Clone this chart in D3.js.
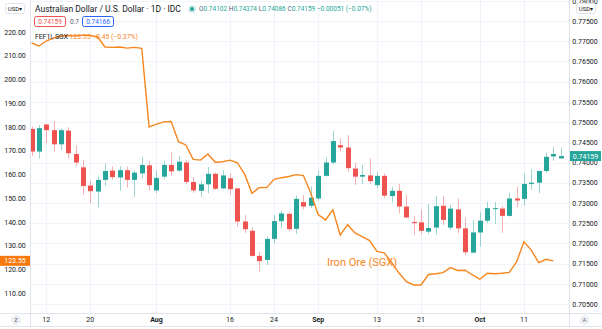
<!DOCTYPE html>
<html>
<head>
<meta charset="utf-8">
<script src="https://cdn.jsdelivr.net/npm/d3@7"></script>
<style>
  body { margin: 0; background: #fff; }
  svg { display: block; font-family: Roboto, "Noto Sans", sans-serif; }
</style>
</head>
<body>
<div id="chart"></div>
<script>
// trading days shown on the chart (2021)
var dates = [
    "07-08", "07-09", "07-12", "07-13", "07-14", "07-15", "07-16", "07-19", "07-20", "07-21",
    "07-22", "07-23", "07-26", "07-27", "07-28", "07-29", "07-30",
    "08-02", "08-03", "08-04", "08-05", "08-06", "08-09", "08-10", "08-11", "08-12", "08-13",
    "08-16", "08-17", "08-18", "08-19", "08-20", "08-23", "08-24", "08-25", "08-26", "08-27",
    "08-30", "08-31",
    "09-01", "09-02", "09-03", "09-06", "09-07", "09-08", "09-09", "09-10", "09-13", "09-14",
    "09-15", "09-16", "09-17", "09-20", "09-21", "09-22", "09-23", "09-24", "09-27", "09-28",
    "09-29", "09-30",
    "10-01", "10-04", "10-05", "10-06", "10-07", "10-08", "10-11", "10-12", "10-13", "10-14",
    "10-15", "10-18"
];

// AUD/USD daily candles
var open = [
    0.7483, 0.7427, 0.7494, 0.7480, 0.7445, 0.7479, 0.7421, 0.7388, 0.7343, 0.7328,
    0.7357, 0.7380, 0.7363, 0.7381, 0.7357, 0.7373, 0.7393,
    0.7331, 0.7365, 0.7394, 0.7380, 0.7400, 0.7352, 0.7330, 0.7346, 0.7372, 0.7336,
    0.7361, 0.7336, 0.7254, 0.7231, 0.7169, 0.7159, 0.7211, 0.7255, 0.7273, 0.7236,
    0.7302, 0.7293,
    0.7311, 0.7367, 0.7400, 0.7443, 0.7437, 0.7385, 0.7365, 0.7368, 0.7344, 0.7367,
    0.7317, 0.7330, 0.7291, 0.7253, 0.7252, 0.7229, 0.7239, 0.7293, 0.7239, 0.7284,
    0.7237, 0.7177,
    0.7227, 0.7256, 0.7285, 0.7286, 0.7268, 0.7311, 0.7310, 0.7347, 0.7350, 0.7379,
    0.7415, 0.74102
];
var high = [
    0.7489, 0.7493, 0.7496, 0.7503, 0.7485, 0.7487, 0.7442, 0.7406, 0.7355, 0.7365,
    0.7398, 0.7390, 0.7391, 0.7390, 0.7381, 0.7414, 0.7404,
    0.7381, 0.7404, 0.7425, 0.7416, 0.7406, 0.7364, 0.7355, 0.7389, 0.7375, 0.7381,
    0.7373, 0.7337, 0.7270, 0.7241, 0.7179, 0.7216, 0.7270, 0.7281, 0.7278, 0.7318,
    0.7320, 0.7340,
    0.7381, 0.7412, 0.7478, 0.7460, 0.7468, 0.7399, 0.7394, 0.7410, 0.7377, 0.7373,
    0.7340, 0.7347, 0.7320, 0.7268, 0.7283, 0.7297, 0.7317, 0.7318, 0.7295, 0.7311,
    0.7264, 0.7258,
    0.7277, 0.7303, 0.7302, 0.7292, 0.7325, 0.7339, 0.7373, 0.7383, 0.7381, 0.7425,
    0.7439, 0.74374
];
var low = [
    0.7416, 0.7410, 0.7449, 0.7427, 0.7431, 0.7410, 0.7391, 0.7321, 0.7299, 0.7289,
    0.7342, 0.7357, 0.7330, 0.7338, 0.7315, 0.7361, 0.7330,
    0.7324, 0.7358, 0.7368, 0.7377, 0.7347, 0.7325, 0.7315, 0.7324, 0.7332, 0.7334,
    0.7320, 0.7241, 0.7226, 0.7167, 0.7130, 0.7146, 0.7200, 0.7237, 0.7231, 0.7223,
    0.7284, 0.7288,
    0.7307, 0.7365, 0.7396, 0.7427, 0.7377, 0.7344, 0.7347, 0.7347, 0.7336, 0.7313,
    0.7301, 0.7274, 0.7262, 0.7221, 0.7223, 0.7223, 0.7222, 0.7245, 0.7233, 0.7225,
    0.7171, 0.7175,
    0.7192, 0.7250, 0.7248, 0.7226, 0.7266, 0.7289, 0.7293, 0.7332, 0.7324, 0.7375,
    0.7404, 0.74086
];
var close = [
    0.7427, 0.7485, 0.7480, 0.7445, 0.7480, 0.7423, 0.7400, 0.7342, 0.7329, 0.7357,
    0.7379, 0.7364, 0.7381, 0.7357, 0.7375, 0.7394, 0.7344,
    0.7362, 0.7394, 0.7378, 0.7402, 0.7352, 0.7331, 0.7346, 0.7372, 0.7335, 0.7368,
    0.7334, 0.7254, 0.7235, 0.7169, 0.7156, 0.7211, 0.7255, 0.7274, 0.7235, 0.7310,
    0.7291, 0.7313,
    0.7367, 0.7400, 0.7453, 0.7437, 0.7386, 0.7365, 0.7369, 0.7354, 0.7367, 0.7318,
    0.7330, 0.7291, 0.7264, 0.7250, 0.7231, 0.7238, 0.7292, 0.7258, 0.7286, 0.7237,
    0.7178, 0.7227,
    0.7256, 0.7287, 0.7287, 0.7268, 0.7311, 0.7306, 0.7347, 0.7350, 0.7379, 0.7414,
    0.7421, 0.74159
];

// iron ore futures (FEF1!, SGX), left scale
var ironOre = [
    215.4, 214.1, 216.2, 217.5, 218.3, 218.5, 218.3, 218.7, 218.5, 217.9,
    213.7, 213.5, 213.7, 213.2, 213.5, 213.1, 180.0, 181.2, 182.1, 182.3,
    173.8, 172.4, 166.3, 166.0, 168.6, 165.1, 165.3, 166.0, 164.9, 160.1,
    152.0, 154.5, 154.4, 157.9, 158.6, 159.1, 159.9, 159.5, 152.0, 143.1,
    140.8, 145.1, 134.4, 138.8, 135.3, 133.8, 132.1, 127.5, 126.9, 122.9,
    118.4, 114.8, 113.4, 113.4, 117.8, 118.1, 118.6, 120.7, 119.5, 119.6,
    117.6, 115.8, 118.3, 118.1, 118.3, 118.7, 123.1, 131.6, 128.1, 122.8,
    124.2, 123.55, null
];

// axis ticks
var rightTicks = [0.705, 0.71, 0.715, 0.72, 0.725, 0.73, 0.735, 0.74, 0.745, 0.75,
    0.755, 0.76, 0.765, 0.77, 0.775, 0.78];
var leftTicks = [110, 120, 130, 140, 150, 160, 170, 180, 190, 200, 210, 220];
var tickDates = ["07-12", "07-20", "08-02", "08-16", "08-24", "09-01", "09-13", "09-21", "10-01", "10-11"];
var tickLabels = ["12", "20", "Aug", "16", "24", "Sep", "13", "21", "Oct", "11"];

function drawChart(id, w, h) {
    var up = "#26a69a", down = "#ef5350", orange = "#f7861e",
        grid = "#f0f3fa", border = "#e0e3eb", textCol = "#131722";

    var plotLeft = 30, plotRight = 569.5, plotBottom = 313;

    var svg = d3.select('#' + id).append('svg')
        .attr("width", w)
        .attr("height", h);

    // scales
    var x = d3.scalePoint()
        .domain(dates)
        .range([31.5, 560.7]);
    var y = d3.scaleLinear()
        .domain([0.705, 0.775])
        .range([304, 21]);
    var yLeft = d3.scaleLinear()
        .domain([110, 220])
        .range([293, 32]);

    svg.append("defs").append("clipPath").attr("id", "plotClip")
        .append("rect")
        .attr("x", plotLeft).attr("y", 0)
        .attr("width", plotRight - plotLeft).attr("height", plotBottom);

    // gridlines
    svg.append("g").selectAll("line.h")
        .data(rightTicks)
        .enter().append("line")
        .attr("x1", plotLeft).attr("x2", plotRight)
        .attr("y1", d => Math.round(y(d)) + 0.5)
        .attr("y2", d => Math.round(y(d)) + 0.5)
        .attr("stroke", grid);
    svg.append("g").selectAll("line.v")
        .data(tickDates)
        .enter().append("line")
        .attr("x1", d => Math.round(x(d)) + 0.5)
        .attr("x2", d => Math.round(x(d)) + 0.5)
        .attr("y1", 0).attr("y2", plotBottom)
        .attr("stroke", grid);

    var plot = svg.append("g").attr("clip-path", "url(#plotClip)");

    var candles = dates.map(function(d, i) {
        return { date: d, o: open[i], h: high[i], l: low[i], c: close[i] };
    });

    // wicks
    plot.append("g").selectAll("line")
        .data(candles)
        .enter().append("line")
        .attr("x1", d => Math.round(x(d.date)) + 0.5)
        .attr("x2", d => Math.round(x(d.date)) + 0.5)
        .attr("y1", d => y(d.h))
        .attr("y2", d => y(d.l))
        .attr("stroke", d => d.c >= d.o ? up : down)
        .attr("stroke-opacity", 0.45)
        .attr("stroke-width", 1);

    // bodies
    plot.append("g").selectAll("rect")
        .data(candles)
        .enter().append("rect")
        .attr("x", d => Math.round(x(d.date)) - 2)
        .attr("width", 5)
        .attr("y", d => y(Math.max(d.o, d.c)))
        .attr("height", d => Math.max(1, Math.abs(y(d.o) - y(d.c))))
        .attr("fill", d => d.c >= d.o ? up : down);

    // iron ore line
    var line = d3.line()
        .defined(d => d != null)
        .x((d, i) => x(dates[i]))
        .y(d => yLeft(d));
    plot.append("path")
        .datum(ironOre)
        .attr("d", line)
        .attr("fill", "none")
        .attr("stroke", orange)
        .attr("stroke-width", 1.4);

    plot.append("text")
        .attr("x", 327).attr("y", 265.5)
        .attr("font-size", "11px")
        .attr("fill", orange)
        .text("Iron Ore (SGX)");

    // borders
    svg.append("line").attr("x1", plotLeft + 0.5).attr("x2", plotLeft + 0.5)
        .attr("y1", 0).attr("y2", 327).attr("stroke", border);
    svg.append("line").attr("x1", plotRight).attr("x2", plotRight)
        .attr("y1", 0).attr("y2", 327).attr("stroke", border);
    svg.append("line").attr("x1", 0).attr("x2", w)
        .attr("y1", plotBottom + 0.5).attr("y2", plotBottom + 0.5).attr("stroke", border);
    svg.append("line").attr("x1", 0).attr("x2", w)
        .attr("y1", 326.5).attr("y2", 326.5).attr("stroke", border);

    // right axis
    var rAxis = svg.append("g")
        .attr("transform", "translate(" + plotRight + ",0)")
        .call(d3.axisRight(y).tickValues(rightTicks).tickFormat(d3.format(".5f")).tickSize(0).tickPadding(15.5));
    rAxis.select(".domain").remove();
    rAxis.selectAll("text")
        .attr("text-anchor", "middle")
        .attr("font-family", "Roboto, sans-serif")
        .attr("font-size", "7px")
        .attr("fill", textCol);

    // left axis
    var lAxis = svg.append("g")
        .attr("transform", "translate(" + plotLeft + ",0)")
        .call(d3.axisLeft(yLeft).tickValues(leftTicks).tickFormat(d3.format(".2f")).tickSize(0).tickPadding(15));
    lAxis.select(".domain").remove();
    lAxis.selectAll("text")
        .attr("text-anchor", "middle")
        .attr("font-family", "Roboto, sans-serif")
        .attr("font-size", "7px")
        .attr("fill", textCol);

    // time axis
    svg.append("g").selectAll("text")
        .data(tickDates)
        .enter().append("text")
        .attr("x", d => x(d))
        .attr("y", 320)
        .attr("dy", ".35em")
        .attr("text-anchor", "middle")
        .attr("font-size", "7px")
        .attr("font-weight", (d, i) => isNaN(+tickLabels[i]) ? "bold" : "normal")
        .attr("fill", textCol)
        .text((d, i) => tickLabels[i]);

    // Z / A buttons
    [[16, "Z"], [584.5, "A"]].forEach(function(b) {
        svg.append("circle").attr("cx", b[0]).attr("cy", 320).attr("r", 5).attr("fill", "#eef0f4");
        svg.append("text").attr("x", b[0]).attr("y", 320).attr("dy", ".35em")
            .attr("text-anchor", "middle").attr("font-size", "6px").attr("fill", "#6a6d78").text(b[1]);
    });

    // last value labels
    var lastClose = close[close.length - 1];
    svg.append("rect").attr("x", plotRight + 0.5).attr("y", y(lastClose) - 5)
        .attr("width", 31).attr("height", 10).attr("fill", up);
    svg.append("text").attr("x", 585.5).attr("y", y(lastClose)).attr("dy", ".35em")
        .attr("text-anchor", "middle").attr("font-size", "7px").attr("fill", "#fff")
        .text(d3.format(".5f")(lastClose));
    var lastOre = ironOre[ironOre.length - 2];
    svg.append("rect").attr("x", 0).attr("y", yLeft(lastOre) - 5)
        .attr("width", 30).attr("height", 10).attr("fill", "#f87a0c");
    svg.append("text").attr("x", 15).attr("y", yLeft(lastOre)).attr("dy", ".35em")
        .attr("text-anchor", "middle").attr("font-size", "7px").attr("fill", "#fff")
        .text(d3.format(".2f")(lastOre));

    // USD boxes
    [5, 576].forEach(function(bx) {
        svg.append("rect").attr("x", bx + 0.5).attr("y", 3.5).attr("width", 19).attr("height", 10)
            .attr("rx", 2).attr("fill", "#fff").attr("stroke", border);
        svg.append("text").attr("x", bx + 10).attr("y", 8.5).attr("dy", ".35em")
            .attr("text-anchor", "middle").attr("font-size", "6px").attr("fill", textCol).text("USD\u25BE");
    });

    // legend row 1
    svg.append("text").attr("x", 35).attr("y", 9).attr("dy", ".35em")
        .attr("font-size", "8.5px").attr("fill", textCol)
        .text("Australian Dollar / U.S. Dollar \u00B7 1D \u00B7 IDC");
    svg.append("circle").attr("cx", 192).attr("cy", 9).attr("r", 4).attr("fill", up).attr("fill-opacity", 0.2);
    svg.append("circle").attr("cx", 192).attr("cy", 9).attr("r", 2).attr("fill", up);
    var ohlc = svg.append("text").attr("x", 199).attr("y", 9).attr("dy", ".35em")
        .attr("font-size", "6.5px");
    [["O", "0.74102 "], ["H", "0.74374 "], ["L", "0.74086 "], ["C", "0.74159 "], ["", "\u22120.00051 (\u22120.07%)"]]
        .forEach(function(p) {
            ohlc.append("tspan").attr("fill", "#5d606b").text(p[0]);
            ohlc.append("tspan").attr("fill", up).text(p[1]);
        });

    // legend row 2
    svg.append("rect").attr("x", 34.5).attr("y", 16.5).attr("width", 31).attr("height", 10)
        .attr("rx", 2).attr("fill", "#fff").attr("stroke", down);
    svg.append("text").attr("x", 50).attr("y", 21.5).attr("dy", ".35em").attr("text-anchor", "middle")
        .attr("font-size", "6.5px").attr("fill", down).text("0.74159");
    svg.append("text").attr("x", 70).attr("y", 21.5).attr("dy", ".35em")
        .attr("font-size", "6.5px").attr("fill", "#5d606b").text("0.7");
    svg.append("rect").attr("x", 82.5).attr("y", 16.5).attr("width", 31).attr("height", 10)
        .attr("rx", 2).attr("fill", "#fff").attr("stroke", "#2962ff");
    svg.append("text").attr("x", 98).attr("y", 21.5).attr("dy", ".35em").attr("text-anchor", "middle")
        .attr("font-size", "6.5px").attr("fill", "#2962ff").text("0.74166");

    // legend row 3
    var fef = svg.append("text").attr("x", 35).attr("y", 37).attr("dy", ".35em")
        .attr("font-size", "6.8px");
    fef.append("tspan").attr("fill", textCol).text("FEF1!, SGX ");
    fef.append("tspan").attr("fill", orange).text("123.55 \u22120.45 (\u22120.37%)");
}

drawChart("chart", 602, 329);
</script>
</body>
</html>
